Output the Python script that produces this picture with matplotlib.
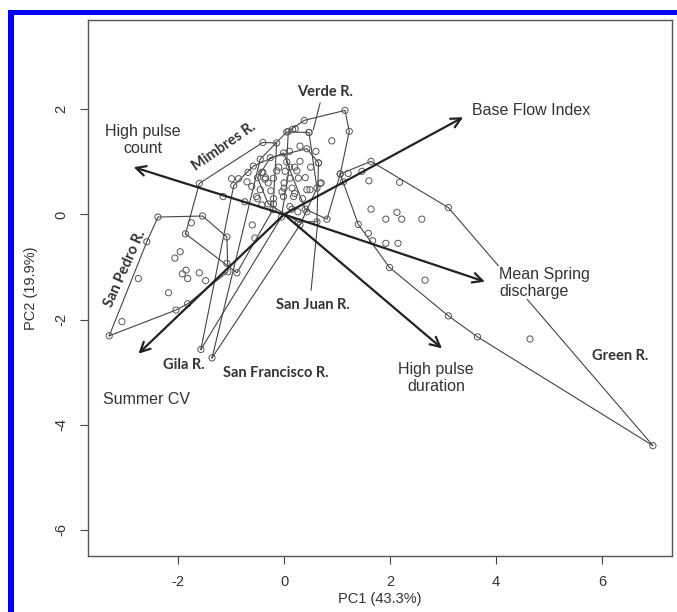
import matplotlib
matplotlib.use("Agg")
import matplotlib.pyplot as plt
from matplotlib.patches import Rectangle
import numpy as np

# ---------------- data (PC scores per river) ----------------
san_pedro_x = [-2.38, -1.54, -1.08, -1.06, -1.82, -2.04, -3.30, -3.06, -2.75, -2.59,
               -1.96, -2.06, -1.85, -1.92, -1.82, -1.60, -1.48, -2.18]
san_pedro_y = [-0.05, -0.03, -0.43, -1.09, -1.70, -1.82, -2.31, -2.04, -1.22, -0.52,
               -0.71, -0.83, -1.06, -1.13, -1.22, -1.11, -1.26, -1.49]

mimbres_x = [-1.60, -0.40, -0.14, -0.21, -0.89, -1.08, -1.86, -0.99, -0.86, -1.15, -0.74, -1.75, -0.55]
mimbres_y = [0.59, 1.37, 1.36, 0.09, -1.11, -0.93, -0.37, 0.68, 0.68, 0.34, 0.24, -0.16, -0.45]

gila_x = [-1.57, -0.95, -0.58, -0.01, 0.10, -0.05, -0.50, -0.30, -0.60, -0.20, -0.40,
          -0.68, -0.42, -0.70, -0.61, -0.45, -0.52, -0.42]
gila_y = [-2.57, 0.55, 0.92, 1.17, 0.90, -0.05, 0.30, 0.60, -0.20, 0.20, 0.80,
          0.80, 0.80, 0.62, 0.53, 0.47, 0.34, 0.18]

san_francisco_x = [-1.36, -0.45, 0.05, 0.47, 0.62, 0.30, 0.00, 0.20, -0.20, 0.35, 0.10, -0.35, 0.30]
san_francisco_y = [-2.73, 1.05, 1.57, 1.56, 0.50, -0.20, 0.50, 0.90, 0.30, 0.30, 1.20, 0.70, 1.30]

verde_x = [0.38, 1.15, 1.23, 1.06, 0.81, 0.40, 0.05, 0.16, 0.47, 0.24, 0.60, 0.70, 0.90, 0.50,
           0.21, 0.08, 0.27, 0.49, 0.68, 0.65, 0.30]
verde_y = [1.79, 1.98, 1.58, 0.77, -0.09, 0.10, 1.00, 1.62, 1.56, 0.83, 1.20, 0.60, 1.40, 0.90,
           1.63, 1.58, 0.69, 0.47, 0.59, 0.98, 1.01]

san_juan_x = [-0.26, 0.43, 0.65, 0.62, 0.27, -0.30, -0.50, 0.00, 0.20, 0.40, -0.10, 0.15, -0.25,
              -0.14, 0.02, -0.36, -0.20, 0.11, -0.04, 0.15, -0.01, 0.18, 0.11, 0.26, 0.43, 0.43]
san_juan_y = [1.08, 1.25, 0.98, -0.14, -0.14, 0.20, 0.70, 0.60, 0.40, 0.70, 0.90, 0.10, 0.45,
              0.83, 0.82, 0.67, 0.69, 0.69, 0.43, 0.50, 0.34, 0.34, 0.15, 0.05, 0.05, 0.47]

green_x = [1.64, 3.10, 6.96, 3.65, 3.10, 1.99, 1.67, 1.59, 1.40, 1.12, 1.06, 1.21, 1.47,
           1.60, 2.18, 1.64, 2.13, 1.92, 2.22, 2.60, 1.92, 2.15, 2.66, 4.64]
green_y = [1.01, 0.13, -4.40, -2.33, -1.93, -1.01, -0.50, -0.36, -0.19, 0.62, 0.77, 0.78, 0.82,
           0.64, 0.61, 0.10, 0.04, -0.09, -0.09, -0.09, -0.55, -0.55, -1.25, -2.37]

rivers = ["San Pedro R.", "Mimbres R.", "Gila R.", "San Francisco R.", "Verde R.", "San Juan R.", "Green R."]
river_x = [san_pedro_x, mimbres_x, gila_x, san_francisco_x, verde_x, san_juan_x, green_x]
river_y = [san_pedro_y, mimbres_y, gila_y, san_francisco_y, verde_y, san_juan_y, green_y]

# loadings (arrow tips)
variables = ["Base Flow Index", "High pulse\ncount", "Mean Spring\ndischarge",
             "High pulse\nduration", "Summer CV"]
load_x = [3.38, -2.84, 3.79, 2.98, -2.75]
load_y = [1.85, 0.90, -1.28, -2.55, -2.65]

x_ticks = [-2, 0, 2, 4, 6]
y_ticks = [-6, -4, -2, 0, 2]

# ---------------- layout (label positions) ----------------
var_label_pos = [(3.55, 1.98, "left"), (-2.67, 1.42, "center"), (4.06, -1.30, "left"),
                 (2.87, -3.11, "center"), (-3.42, -3.53, "left")]
river_label_pos = {"San Pedro R.": (-3.0, -1.03, 66), "Mimbres R.": (-1.14, 1.29, 35),
                   "Gila R.": (-1.89, -2.87, 0), "San Francisco R.": (-0.15, -3.01, 0),
                   "Verde R.": (0.77, 2.33, 0), "San Juan R.": (0.55, -1.72, 0),
                   "Green R.": (6.34, -2.70, 0)}
leaders = {"Verde R.": ((0.68, 2.12), (0.55, 1.61)),
           "San Juan R.": ((0.51, -1.44), (0.64, -0.10))}


def convex_hull(xs, ys):
    pts = sorted(set(zip(xs, ys)))
    def cross(o, a, b):
        return (a[0]-o[0])*(b[1]-o[1]) - (a[1]-o[1])*(b[0]-o[0])
    lower, upper = [], []
    for p in pts:
        while len(lower) >= 2 and cross(lower[-2], lower[-1], p) <= 0:
            lower.pop()
        lower.append(p)
    for p in reversed(pts):
        while len(upper) >= 2 and cross(upper[-2], upper[-1], p) <= 0:
            upper.pop()
        upper.append(p)
    hull = lower[:-1] + upper[:-1]
    hull.append(hull[0])
    return [p[0] for p in hull], [p[1] for p in hull]


W, H = 677, 612
fig = plt.figure(figsize=(W/100, H/100), dpi=100)
fig.patch.set_facecolor("white")
ax = fig.add_axes([88/W, 1-556/H, (672-88)/W, (556-20)/H])

# blue frame
fig.patches.append(Rectangle((8/W, 1-15/H), 1-8/W, 5/H, transform=fig.transFigure,
                             facecolor="#0000ff", edgecolor="none", zorder=10))
fig.patches.append(Rectangle((8/W, 0), 6/W, 1-10/H, transform=fig.transFigure,
                             facecolor="#0000ff", edgecolor="none", zorder=10))

line_col = "#444444"
for name, xs, ys in zip(rivers, river_x, river_y):
    hx, hy = convex_hull(xs, ys)
    ax.plot(hx, hy, color=line_col, lw=0.8, zorder=2)
    ax.scatter(xs, ys, s=20, facecolors="none", edgecolors="#555555", linewidths=0.7, zorder=3)

# arrows
for vx, vy in zip(load_x, load_y):
    ax.annotate("", xy=(vx, vy), xytext=(0, 0),
                arrowprops=dict(arrowstyle="->,head_length=0.7,head_width=0.35",
                                lw=1.6, color="#222222", shrinkA=0, shrinkB=0), zorder=4)

for name, (lx, ly, ha) in zip(variables, var_label_pos):
    bbox = None
    if name.startswith("Mean"):
        bbox = dict(boxstyle="square,pad=0.05", facecolor="white", edgecolor="none")
    ax.text(lx, ly, name, ha=ha, va="center", fontsize=11.5, color="#333333",
            family=["Liberation Sans", "DejaVu Sans"], linespacing=1.15, zorder=5, bbox=bbox)

for name in rivers:
    lx, ly, rot = river_label_pos[name]
    ax.text(lx, ly, name, ha="center", va="center", rotation=rot, fontsize=10.5,
            fontweight="bold", color="#333333", family=["Lato", "DejaVu Sans"], zorder=5)

for name, (p0, p1) in leaders.items():
    ax.plot([p0[0], p1[0]], [p0[1], p1[1]], color=line_col, lw=0.8, zorder=2)

ax.set_xlim(-3.70, 7.32)
ax.set_ylim(-6.50, 3.70)
ax.set_xticks(x_ticks)
ax.set_yticks(y_ticks)
ax.set_xticklabels([str(t) for t in x_ticks])
ax.set_yticklabels([str(t) for t in y_ticks], rotation=90, va="center")
ax.tick_params(direction="out", length=6, width=0.8, colors="#444444", labelcolor="#333333",
               labelsize=10.5, pad=8)
for lab in ax.get_xticklabels() + ax.get_yticklabels():
    lab.set_family(["Liberation Sans", "DejaVu Sans"])
for sp in ax.spines.values():
    sp.set_color("#555555")
    sp.set_linewidth(1.0)
ax.set_xlabel("PC1 (43.3%)", fontsize=10.5, color="#333333",
              family=["Liberation Sans", "DejaVu Sans"], labelpad=2)
ax.set_ylabel("PC2 (19.9%)", fontsize=10.5, color="#333333",
              family=["Liberation Sans", "DejaVu Sans"], labelpad=12)

fig.savefig("out.png", dpi=100, facecolor="white")
